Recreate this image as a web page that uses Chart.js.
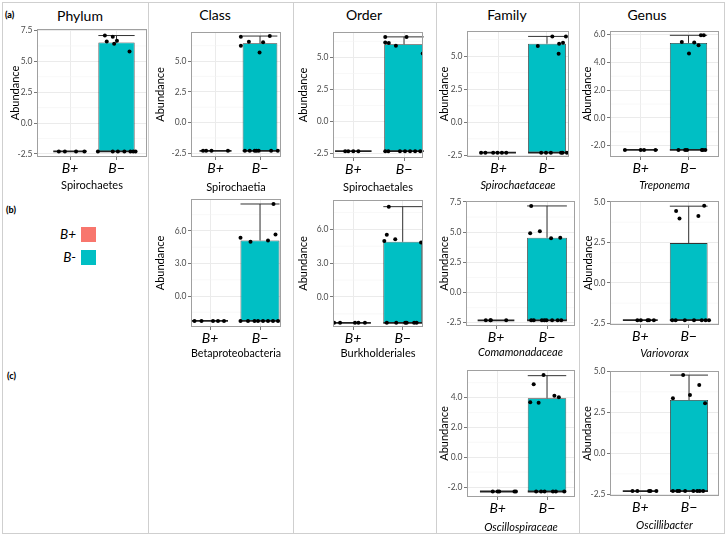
<!DOCTYPE html>
<html><head><meta charset="utf-8">
<script src="https://cdn.jsdelivr.net/npm/chart.js@4.4.0/dist/chart.umd.min.js"></script>
<style>
html,body{margin:0;padding:0;background:#fff;}
body{width:726px;height:539px;position:relative;overflow:hidden;font-family:Lato,sans-serif;}
.txt{position:absolute;white-space:nowrap;line-height:1;color:#000;}
.ln{position:absolute;background:#cfcfcf;}
.sq{position:absolute;width:15px;height:15px;}
</style></head><body>
<script>
// ---------------- DATA ----------------
const groups = ['B+', 'B\u2212'];
const ranks = ['Phylum', 'Class', 'Order', 'Family', 'Genus'];
const taxa = ['Spirochaetes', 'Spirochaetia', 'Spirochaetales', 'Spirochaetaceae', 'Treponema',
  'Betaproteobacteria', 'Burkholderiales', 'Comamonadaceae', 'Variovorax',
  'Oscillospiraceae', 'Oscillibacter'];
const italicTaxon = [false, false, false, true, true, false, false, true, true, true, true];
const zeroLevel = -2.3;                 // abundance of absent taxa (log scale)
const q3Bminus = [6.53, 6.44, 6.03, 5.94, 5.40, 5.13, 4.90, 4.54, 2.46, 3.96, 3.25];
const whiskerBminus = [7.09, 7.03, 6.60, 6.49, 5.95, 8.49, 8.02, 7.17, 4.74, 5.47, 4.77];
const yTicks = [
  [-2.5, 0, 2.5, 5, 7.5], [-2.5, 0, 2.5, 5], [-2.5, 0, 2.5, 5], [-2.5, 0, 2.5, 5], [-2, 0, 2, 4, 6],
  [0, 3, 6], [0, 3, 6], [-2.5, 0, 2.5, 5, 7.5], [-2.5, 0, 2.5, 5],
  [-2, 0, 2, 4], [-2.5, 0, 2.5, 5]
];
const yMin = [-2.75, -2.80, -2.83, -2.63, -2.81, -2.86, -2.67, -2.77, -2.60, -2.67, -2.60];
const yMax = [7.62, 7.36, 6.98, 6.90, 6.26, 8.95, 8.61, 7.58, 5.06, 5.85, 5.02];
// jittered sample positions (x in group units, B+ = 1, B- = 2)
const bPlusJitter = [
  [0.76, 0.89, 1.13, 1.31], [0.72, 0.79, 0.91, 1.28], [0.84, 0.90, 1.00, 1.10],
  [0.64, 0.73, 0.89, 0.98, 1.07, 1.16], [0.67, 1.00, 1.07, 1.31],
  [0.69, 0.83, 1.06, 1.16, 1.28], [0.62, 0.74, 1.04, 1.11, 1.24], [0.80, 0.89, 0.90, 1.20],
  [0.94, 1.01, 1.15, 1.18, 1.28], [0.90, 1.00, 1.03, 1.34, 1.37], [0.84, 0.94, 1.18, 1.21, 1.33]
];
const bMinusZeroJitter = [
  [1.60, 1.92, 2.03, 2.17, 2.30, 2.36, 2.41], [1.66, 1.77, 1.88, 1.92, 1.97, 2.25, 2.40],
  [1.63, 1.69, 1.92, 2.02, 2.12, 2.22, 2.32], [1.88, 1.98, 2.08, 2.29, 2.32, 2.41],
  [1.79, 1.93, 1.97, 2.28, 2.30, 2.35], [1.61, 1.76, 1.89, 1.96, 2.06, 2.16, 2.26, 2.36],
  [1.68, 1.87, 2.05, 2.08, 2.23, 2.28], [1.69, 1.74, 1.90, 1.95, 1.99, 2.10, 2.21, 2.28],
  [1.66, 1.73, 1.92, 2.11, 2.27, 2.35, 2.42], [1.78, 1.88, 1.95, 2.12, 2.18, 2.35],
  [1.67, 1.76, 1.80, 1.92, 2.09, 2.17, 2.22, 2.29]
];
const bMinusUpper = [
  [[1.75, 7.09], [1.92, 7.00], [1.79, 6.60], [1.95, 6.42], [2.01, 6.66], [2.28, 5.80]],
  [[1.57, 6.98], [1.75, 6.57], [1.57, 6.24], [2.07, 6.52], [2.22, 7.03], [1.99, 5.70]],
  [[1.63, 6.16], [1.70, 6.13], [1.84, 5.90], [2.05, 6.60], [1.63, 6.60], [2.37, 5.30]],
  [[1.81, 5.76], [2.11, 6.49], [2.25, 5.94], [2.33, 6.01], [2.24, 5.18], [2.39, 6.49]],
  [[1.86, 5.47], [2.12, 5.43], [2.01, 4.64], [2.21, 5.23], [2.26, 5.95], [2.32, 5.95]],
  [[1.61, 5.38], [1.81, 5.00], [2.16, 5.13], [2.31, 5.67], [2.27, 8.49]],
  [[1.72, 8.02], [1.68, 5.53], [1.63, 4.96], [1.85, 5.13], [2.37, 4.83]],
  [[1.69, 7.17], [1.67, 4.92], [1.86, 5.08], [2.08, 4.50], [2.26, 4.54]],
  [[1.74, 4.44], [1.81, 3.98], [2.32, 4.77], [2.20, 4.13]],
  [[1.93, 5.51], [1.73, 4.89], [1.66, 3.69], [1.83, 3.66], [2.15, 4.13], [2.24, 4.02]],
  [[1.88, 4.77], [2.02, 3.56], [1.67, 3.36], [2.21, 4.16], [2.33, 3.05]]
];

// ---------------- LAYOUT (page pixels) ----------------
const colLeft = [2, 148, 293, 436, 579];
const layout = [
  {col:0, L:37,  R:147, T:29,  B:157, c1:70,    c2:116.5, ytX:15,  xtY:185},
  {col:1, L:191, R:281, T:32,  B:157, c1:215.5, c2:260,   ytX:160, xtY:187},
  {col:2, L:333, R:423, T:32,  B:158, c1:353.3, c2:404,   ytX:303, xtY:187},
  {col:3, L:467, R:569, T:31,  B:157, c1:498.5, c2:547,   ytX:444, xtY:185},
  {col:4, L:610, R:719, T:31,  B:157, c1:640.7, c2:688.5, ytX:587, xtY:185},
  {col:1, L:191, R:281, T:199, B:327, c1:210,   c2:260,   ytX:160, xtY:353},
  {col:2, L:333, R:423, T:200, B:327, c1:353,   c2:402.7, ytX:303, xtY:353},
  {col:3, L:466, R:575, T:201, B:326, c1:496,   c2:547,   ytX:444, xtY:352},
  {col:4, L:610, R:719, T:201, B:325, c1:640.3, c2:688.7, ytX:588, xtY:353},
  {col:3, L:467, R:575, T:370, B:497, c1:497.7, c2:547,   ytX:444, xtY:527},
  {col:4, L:610, R:719, T:371, B:496, c1:640.3, c2:689,   ytX:587, xtY:525}
];
const headerPos = [[80, 16], [215, 15], [364, 15], [507, 15], [647, 15]];

function addDiv(cls, css, text) {
  const d = document.createElement('div');
  d.className = cls; d.style.cssText = css;
  if (text !== undefined) d.textContent = text;
  document.body.appendChild(d);
  return d;
}

// frame lines
addDiv('ln', 'left:2px;top:2px;width:722px;height:1px;');
addDiv('ln', 'left:2px;top:533px;width:722px;height:1px;');
addDiv('ln', 'left:2px;top:2px;width:1px;height:532px;');
addDiv('ln', 'left:724px;top:2px;width:1px;height:532px;');
[148, 293, 436, 579].forEach(x => addDiv('ln', `left:${x}px;top:2px;width:1px;height:532px;`));

// headers
ranks.forEach((r, k) => {
  addDiv('txt', `font-size:14px;top:${headerPos[k][1] - 7}px;left:${headerPos[k][0]}px;transform:translateX(-50%);`, r);
});
// row labels
addDiv('txt', 'font-size:9px;font-weight:900;left:5px;top:10px;', '(a)');
addDiv('txt', 'font-size:9px;font-weight:900;left:6px;top:205px;', '(b)');
addDiv('txt', 'font-size:9px;font-weight:900;left:7px;top:371px;', '(c)');
// legend
addDiv('txt', 'font-size:13.5px;font-style:italic;right:650px;top:228px;', 'B+');
addDiv('txt', 'font-size:13.5px;font-style:italic;right:650px;top:251px;', 'B-');
addDiv('sq', 'left:81px;top:227px;background:#F8766D;');
addDiv('sq', 'left:81px;top:250px;background:#00BFC4;');

// ---------------- PLUGIN ----------------
const boxExtras = {
  id: 'boxExtras',
  beforeDatasetsDraw(chart, args, opts) {
    const {ctx, chartArea: a, scales: {y}} = chart;
    const t = yTicks[opts.idx]; const step = t[1] - t[0];
    ctx.save(); ctx.strokeStyle = '#f4f4f4'; ctx.lineWidth = 0.6;
    for (let v = t[0] - step / 2; v <= y.max; v += step) {
      if (v < y.min) continue;
      const py = y.getPixelForValue(v);
      ctx.beginPath(); ctx.moveTo(a.left, py); ctx.lineTo(a.right, py); ctx.stroke();
    }
    ctx.restore();
  },
  afterDatasetDraw(chart, args, opts) {
    if (args.index !== 0) return;
    const i = opts.idx; const {ctx, scales: {x, y}} = chart;
    const seg = (x1, y1, x2, y2) => { ctx.beginPath(); ctx.moveTo(x1, y1); ctx.lineTo(x2, y2); ctx.stroke(); };
    const hwM = 0.39, hwP = 0.36;
    const yq = y.getPixelForValue(q3Bminus[i]);
    const yw = y.getPixelForValue(whiskerBminus[i]);
    const yz = y.getPixelForValue(zeroLevel);
    ctx.save(); ctx.strokeStyle = '#333'; ctx.lineWidth = 1;
    seg(x.getPixelForValue(2), yq, x.getPixelForValue(2), yw);
    seg(x.getPixelForValue(2 - hwM), yw, x.getPixelForValue(2 + hwM), yw);
    ctx.lineWidth = 1.8; ctx.strokeStyle = '#222';
    seg(x.getPixelForValue(1 - hwP), yz, x.getPixelForValue(1 + hwP), yz);
    seg(x.getPixelForValue(2 - hwM), yz, x.getPixelForValue(2 + hwM), yz);
    ctx.restore();
  },
  afterDraw(chart) {
    const {ctx, chartArea: a} = chart;
    ctx.save(); ctx.strokeStyle = '#a0a0a0'; ctx.lineWidth = 1;
    ctx.strokeRect(Math.round(a.left) + 0.5, Math.round(a.top) + 0.5, Math.round(a.right - a.left) - 1, Math.round(a.bottom - a.top) - 1);
    ctx.restore();
  }
};

// ---------------- PANELS ----------------
function makePanel(i) {
  const p = layout[i];
  const cl = colLeft[p.col] + 2;
  const padTop = 8, padRight = 3, xh = 45;
  const yw = p.L - cl;
  const cw = p.R + padRight - cl;
  const ch = padTop + (p.B - p.T) + xh;
  const canvas = document.createElement('canvas');
  canvas.width = cw; canvas.height = ch;
  canvas.style.cssText = `position:absolute;left:${cl}px;top:${p.T - padTop}px;width:${cw}px;height:${ch}px;`;
  document.body.appendChild(canvas);
  const u = p.c2 - p.c1;
  const xMin = 1 - (p.c1 - p.L) / u, xMax = 2 + (p.R - p.c2) / u;
  const yTitleSize = 11, yTitleLH = 13;
  const xTitleSize = 11, xTitleLH = 13;
  const yTitlePad = p.ytX - cl - yTitleLH / 2;
  const xTitlePad = (p.B + xh) - p.xtY - xTitleLH / 2;
  const points = [
    ...bPlusJitter[i].map(x => ({x, y: zeroLevel})),
    ...bMinusZeroJitter[i].map(x => ({x, y: zeroLevel})),
    ...bMinusUpper[i].map(([x, y]) => ({x, y}))
  ];
  new Chart(canvas, {
    type: 'bar',
    data: {
      datasets: [
        { type: 'bar', data: [{x: 1, y: [zeroLevel, zeroLevel]}, {x: 2, y: [zeroLevel, q3Bminus[i]]}],
          backgroundColor: ['#F8766D', '#00BFC4'], borderColor: '#333', borderWidth: 0.8,
          borderSkipped: false, categoryPercentage: 1, barPercentage: 0.78, order: 2 },
        { type: 'scatter', data: points, pointRadius: 2, pointBackgroundColor: '#000',
          pointBorderWidth: 0, order: 1 }
      ]
    },
    options: {
      responsive: false, animation: false, events: [],
      layout: {padding: {top: padTop, right: padRight, left: 0, bottom: 0}, autoPadding: false},
      plugins: {legend: {display: false}, tooltip: {enabled: false}, boxExtras: {idx: i}},
      scales: {
        x: {
          type: 'linear', min: xMin, max: xMax, offset: false,
          afterBuildTicks: s => { s.ticks = [{value: 1}, {value: 2}]; },
          afterFit: s => { s.height = xh; },
          ticks: { callback: (v, k) => groups[k], font: {family: 'Lato', style: 'italic', size: 14, lineHeight: 1},
                   color: '#000', padding: 1, maxRotation: 0, autoSkip: false },
          grid: { offset: false, color: '#ebebeb', lineWidth: 1, tickLength: 3, tickColor: '#555', tickWidth: 0.8 },
          border: {display: false},
          title: { display: true, text: taxa[i], color: '#000',
                   font: {family: 'Lato', size: xTitleSize, style: italicTaxon[i] ? 'italic' : 'normal', lineHeight: xTitleLH / xTitleSize},
                   padding: {top: 0, bottom: xTitlePad} }
        },
        y: {
          type: 'linear', min: yMin[i], max: yMax[i],
          afterBuildTicks: s => { s.ticks = yTicks[i].map(v => ({value: v})); },
          afterFit: s => { s.width = yw; },
          ticks: { callback: v => v.toFixed(1), font: {family: 'Lato', size: 8.5}, color: '#4d4d4d', padding: 1.5, autoSkip: false },
          grid: { color: '#ebebeb', lineWidth: 1, tickLength: 3, tickColor: '#555', tickWidth: 0.8 },
          border: {display: false},
          title: { display: true, text: 'Abundance', color: '#000',
                   font: {family: 'Lato', size: yTitleSize, lineHeight: yTitleLH / yTitleSize},
                   padding: {top: yTitlePad, bottom: 0} }
        }
      }
    },
    plugins: [boxExtras]
  });
}
for (let i = 0; i < taxa.length; i++) makePanel(i);
</script>
</body></html>
